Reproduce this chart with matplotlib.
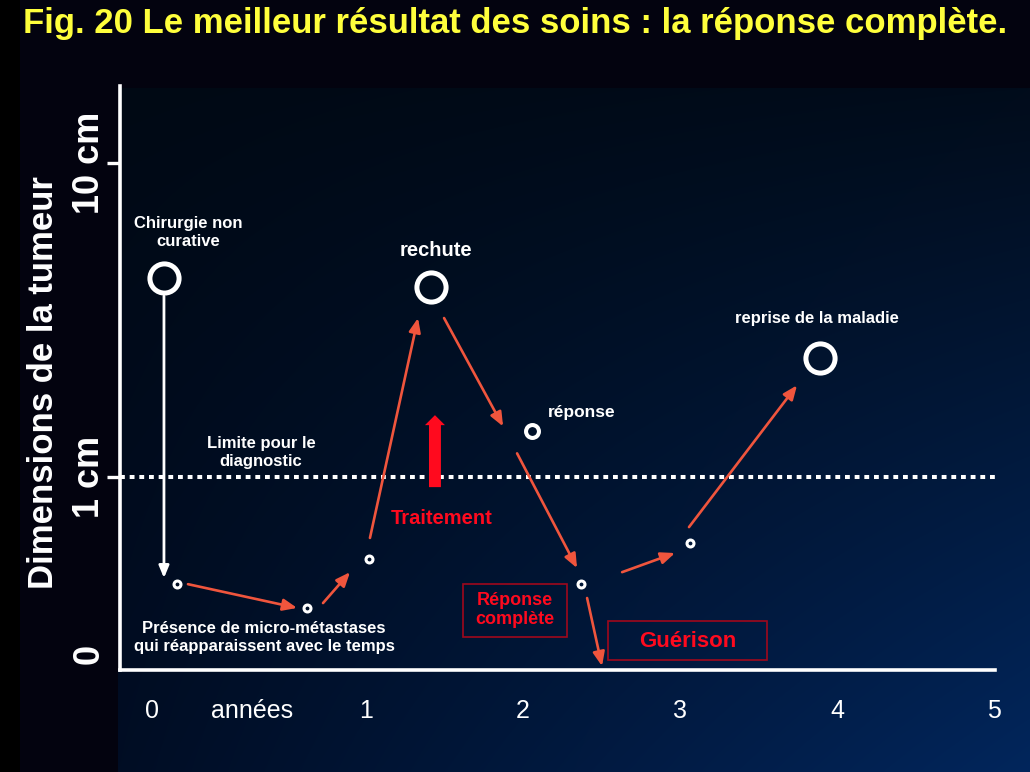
import numpy as np
import matplotlib
matplotlib.use("Agg")
import matplotlib.pyplot as plt
from matplotlib import font_manager
from matplotlib.patches import Rectangle

# DONNEES (x en années, y en cm, échelle log)
points_x = [-0.287, -0.204, 0.624, 1.019, 1.414, 2.057, 2.369, 3.064, 3.892]
points_y = [4.3, 0.456, 0.383, 0.548, 4.03, 1.40, 0.456, 0.617, 2.39]
points_taille = ["grand", "petit", "petit", "petit", "grand", "moyen", "petit", "petit", "grand"]

# flèches : (x début, y début, x fin, y fin)
fleches_x0 = [-0.134, 0.726, 1.025, 1.497, 1.962, 2.408, 2.631, 3.057]
fleches_y0 = [0.456, 0.397, 0.640, 3.21, 1.19, 0.412, 0.498, 0.693]
fleches_x1 = [0.561, 0.898, 1.331, 1.873, 2.344, 2.503, 2.968, 3.745]
fleches_y1 = [0.383, 0.498, 3.21, 1.45, 0.513, 0.25, 0.573, 1.96]

chirurgie_x = [-0.287, -0.287]
chirurgie_y = [3.77, 0.477]

limite_diagnostic = 1.0

xticks_pos = [-0.363, 0.274, 1, 2, 3, 4, 5]
xticks_labels = ["0", "années", "1", "2", "3", "4", "5"]
yticks_pos = [0.273, 1, 10]
yticks_labels = ["0", "1 cm", "10 cm"]

titre = "Fig. 20 Le meilleur résultat des soins : la réponse complète."

# POLICES
noms = {f.name for f in font_manager.fontManager.ttflist}
etroite = "Liberation Sans Narrow" if "Liberation Sans Narrow" in noms else "Liberation Sans"
plt.rcParams["font.family"] = ["Liberation Sans", "DejaVu Sans"]

orange = "#f0553d"
rouge = "#ff0a1e"

fig = plt.figure(figsize=(10.3, 7.72), dpi=100)

# FOND EN DEGRADE
H, W = 772, 1030
img = np.zeros((H, W, 3))
img[:, 20:] = np.array([3, 3, 15]) / 255
yy, xx = np.mgrid[0:H - 88, 0:W - 118]
fy = (yy / (H - 89))[..., None]
fx = (xx / (W - 119))[..., None]
hg = np.array([0, 9, 20]) / 255
hd = np.array([1, 12, 27]) / 255
bg_ = np.array([0, 13, 36]) / 255
bd = np.array([2, 38, 92]) / 255
img[88:, 118:] = hg * (1 - fx) * (1 - fy) + hd * fx * (1 - fy) + bg_ * (1 - fx) * fy + bd * fx * fy
fond = fig.add_axes([0, 0, 1, 1])
fond.imshow(img, aspect="auto", interpolation="bilinear")
fond.axis("off")

# AXES
ax = fig.add_axes([120 / 1030, 102 / 772, 875 / 1030, 584 / 772])
ax.patch.set_alpha(0)
ax.set_yscale("log")
ax.set_xlim(-0.567, 5.006)
ax.set_ylim(0.243, 17.6)
for cote in ["top", "right"]:
    ax.spines[cote].set_visible(False)
for cote in ["left", "bottom"]:
    ax.spines[cote].set_color("white")
    ax.spines[cote].set_linewidth(2.6)

ax.set_xticks(xticks_pos)
ax.set_xticklabels(xticks_labels, fontsize=18, color="white")
ax.tick_params(axis="x", length=0, pad=21)
ax.yaxis.set_minor_locator(matplotlib.ticker.NullLocator())
ax.set_yticks(yticks_pos)
ax.set_yticklabels(yticks_labels, rotation=90, va="center", fontsize=26,
                   fontweight="bold", color="white", family=etroite)
ax.tick_params(axis="y", length=9.5, width=2.4, color="white", pad=0)
ax.yaxis.get_major_ticks()[0].tick1line.set_visible(False)

fig.text(44 / 1030, 1 - 383 / 772, "Dimensions de la tumeur", rotation=90,
         ha="center", va="center", fontsize=25, fontweight="bold",
         color="white", family=etroite)
fig.text(0.5, 1 - 24 / 772, titre, ha="center", va="center", fontsize=25,
         fontweight="bold", color="#ffff3c", family=etroite)

# LIGNE LIMITE DIAGNOSTIC
ax.axhline(limite_diagnostic, color="white", lw=2.9, linestyle=(0, (1.2, 1.2)),
           dash_capstyle="butt")

# FLECHES
for x0, y0, x1, y1 in zip(fleches_x0, fleches_y0, fleches_x1, fleches_y1):
    ax.annotate("", xy=(x1, y1), xytext=(x0, y0),
                arrowprops=dict(arrowstyle="-|>,head_length=0.6,head_width=0.25",
                                mutation_scale=14, color=orange, lw=1.9,
                                shrinkA=0, shrinkB=0))
ax.annotate("", xy=(chirurgie_x[1], chirurgie_y[1]), xytext=(chirurgie_x[0], chirurgie_y[0]),
            arrowprops=dict(arrowstyle="-|>,head_length=0.6,head_width=0.25",
                            mutation_scale=12, color="white", lw=2,
                            shrinkA=0, shrinkB=0))

# fleche traitement
ax.annotate("", xy=(1.439, 1.575), xytext=(1.439, 0.929),
            arrowprops=dict(arrowstyle="simple,head_length=0.72,head_width=1.44,tail_width=0.86",
                            mutation_scale=10, color=rouge, lw=0,
                            shrinkA=0, shrinkB=0))

# CERCLES
styles = {"grand": (21.0, 3.6), "moyen": (9.3, 2.9), "petit": (5.0, 2.2)}
for x, y, t in zip(points_x, points_y, points_taille):
    ms, mew = styles[t]
    ax.plot(x, y, "o", ms=ms, mfc="none", mec="white", mew=mew, clip_on=False)

# TEXTES
blanc = dict(color="white", fontweight="bold", fontsize=12, ha="center", va="center",
             linespacing=1.25)
ax.text(-0.134, 6.03, "Chirurgie non\ncurative", **blanc)
ax.text(1.446, 5.28, "rechute", **{**blanc, "fontsize": 14.5})
ax.text(2.159, 1.60, "réponse", **{**blanc, "ha": "left", "fontsize": 12.5})
ax.text(3.873, 3.21, "reprise de la maladie", **blanc)
ax.text(0.331, 1.20, "Limite pour le\ndiagnostic", **blanc)
ax.text(0.350, 0.309, "Présence de micro-métastases\nqui réapparaissent avec le temps", **blanc)

ax.text(1.484, 0.740, "Traitement", color=rouge, fontweight="bold", fontsize=14.5,
        ha="center", va="center")
ax.text(1.949, 0.377, "Réponse\ncomplète", color=rouge, fontweight="bold", fontsize=13,
        ha="center", va="center", linespacing=1.2)
ax.text(3.051, 0.300, "Guérison", color=rouge, fontweight="bold", fontsize=16,
        ha="center", va="center")
ax.add_patch(Rectangle((1.618, 0.309), 2.280 - 1.618, 0.456 - 0.309, fill=False,
                       edgecolor="#a0081c", lw=1.2))
ax.add_patch(Rectangle((2.541, 0.261), 3.554 - 2.541, 0.348 - 0.261, fill=False,
                       edgecolor="#a0081c", lw=1.2))

fig.savefig("out.png", dpi=100)
